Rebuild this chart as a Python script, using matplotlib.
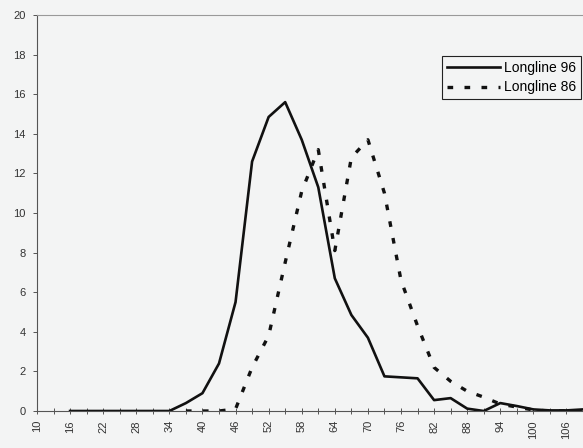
import numpy as np
import matplotlib.pyplot as plt

plt.rcParams['font.family'] = ['Liberation Sans', 'DejaVu Sans']

# length classes (cm), one category every 3 cm
sizes = np.arange(10, 110, 3)

# percentage of catch in each length class
longline_96 = [np.nan, np.nan, 0, 0, 0, 0, 0, 0, 0, 0.4, 0.9, 2.4, 5.5, 12.6,
               14.85, 15.6, 13.7, 11.3, 6.7, 4.85, 3.7, 1.75, 1.7, 1.65, 0.55,
               0.65, 0.12, 0.0, 0.4, 0.25, 0.08, 0.03, 0.03, 0.08]
longline_86 = [np.nan, np.nan, np.nan, np.nan, np.nan, np.nan, np.nan, np.nan,
               np.nan, 0, 0, 0, 0.1, 2.2, 3.8, 7.5, 11.1, 13.2, 8.1, 12.8, 13.7,
               11.0, 6.6, 4.3, 2.2, 1.5, 1.0, 0.7, 0.35, 0.2, 0.05, 0, 0, 0]

bg = '#f3f4f4'
fig = plt.figure(figsize=(5.83, 4.48), dpi=100, facecolor=bg)
ax = fig.add_axes([37 / 583, 37 / 448, 1 - 37 / 583, 396 / 448], facecolor=bg)

ax.plot(sizes, longline_96, color='#111111', lw=1.9, label='Longline 96')
ax.plot(sizes, longline_86, color='#111111', lw=2.4, linestyle=(0, (1.7, 3.4)),
        dash_capstyle='butt', label='Longline 86')

ax.set_xlim(10, 108.3)
ax.set_ylim(0, 20)

ax.set_yticks(np.arange(0, 21, 2))
ax.set_xticks(sizes[::2])
ax.set_xticks(sizes, minor=True)
ax.set_xticklabels([str(s) for s in sizes[::2]], rotation=90)

ax.tick_params(axis='y', direction='out', length=3, width=0.7, colors='#555555',
               labelcolor='#333333', labelsize=8, pad=5)
ax.tick_params(axis='x', which='both', direction='inout', length=5, width=0.7,
               colors='#555555', labelcolor='#333333', labelsize=8, pad=4)

for side in ['left', 'bottom']:
    ax.spines[side].set_color('#555555')
    ax.spines[side].set_linewidth(0.8)
ax.spines['top'].set_color('#999999')
ax.spines['top'].set_linestyle((0, (1, 1)))
ax.spines['top'].set_linewidth(0.8)
ax.spines['right'].set_visible(False)

leg = ax.legend(loc='upper right', bbox_to_anchor=(581 / 583, 1 - 56 / 448),
                bbox_transform=fig.transFigure, fontsize=10, frameon=True,
                fancybox=False, handlelength=3.8, handletextpad=0.3,
                borderpad=0.35, labelspacing=0.4, borderaxespad=0)
leg.get_frame().set_edgecolor('#222222')
leg.get_frame().set_linewidth(0.8)
leg.get_frame().set_facecolor(bg)
leg.get_frame().set_alpha(1)

fig.savefig('out.png', dpi=100, facecolor=bg)
